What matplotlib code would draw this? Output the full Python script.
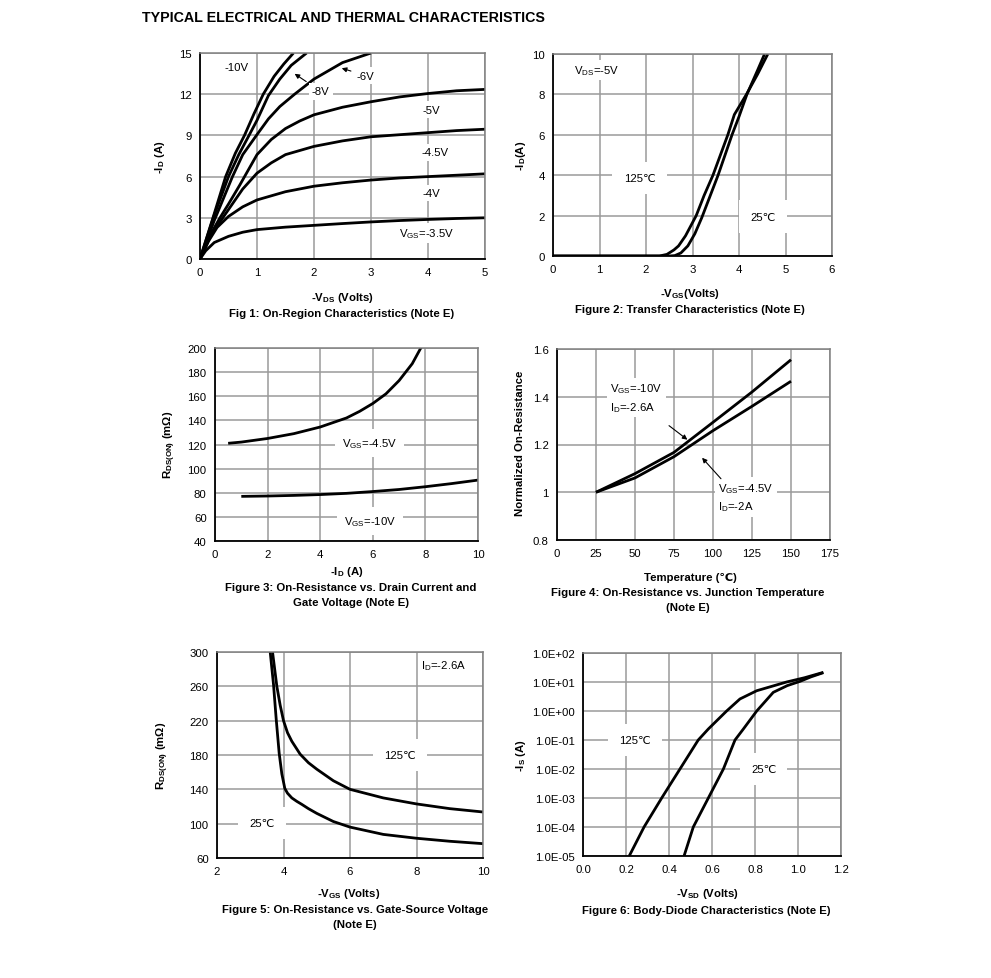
import numpy as np
import matplotlib
matplotlib.use("Agg")
import matplotlib.pyplot as plt

plt.rcParams["font.family"] = ["Liberation Sans", "DejaVu Sans"]
plt.rcParams["mathtext.fontset"] = "custom"
plt.rcParams["mathtext.rm"] = "Liberation Sans"
plt.rcParams["mathtext.bf"] = "Liberation Sans:bold"
plt.rcParams["mathtext.it"] = "Liberation Sans:italic"
plt.rcParams["font.size"] = 8.2

# ----------------- Data -----------------
# Fig 1: On-region characteristics, -VDS (V) vs -ID (A)
vds_10 = [0, 0.25, 0.45, 0.62, 0.78, 0.95, 1.11, 1.3, 1.47, 1.64]
id_10 = [0, 3.3, 6.0, 7.7, 9.0, 10.6, 12.0, 13.3, 14.2, 15.0]
vds_8 = [0, 0.25, 0.5, 0.68, 0.86, 1.0, 1.2, 1.4, 1.6, 1.87]
id_8 = [0, 3.2, 6.0, 7.6, 9.0, 10.1, 11.9, 13.1, 14.1, 15.0]
vds_6 = [0, 0.25, 0.57, 0.75, 0.99, 1.2, 1.4, 1.66, 2.0, 2.5, 3.0]
id_6 = [0, 2.8, 6.0, 7.6, 9.0, 10.2, 11.1, 12.0, 13.1, 14.3, 15.0]
vds_5 = [0, 0.2, 0.35, 0.5, 0.7, 1.0, 1.25, 1.5, 1.75, 2.0, 2.5, 3.0, 3.5, 4.0, 4.5, 5.0]
id_5 = [0, 1.9, 3.0, 4.0, 5.4, 7.6, 8.7, 9.5, 10.05, 10.5, 11.05, 11.45, 11.8, 12.05, 12.25, 12.35]
vds_45 = [0, 0.2, 0.5, 0.75, 1.0, 1.25, 1.5, 2.0, 2.5, 3.0, 3.5, 4.0, 4.5, 5.0]
id_45 = [0, 1.8, 3.6, 5.1, 6.25, 7.0, 7.6, 8.2, 8.6, 8.9, 9.05, 9.2, 9.35, 9.45]
vds_4 = [0, 0.15, 0.3, 0.5, 0.75, 1.0, 1.5, 2.0, 2.5, 3.0, 3.5, 4.0, 4.5, 5.0]
id_4 = [0, 1.3, 2.3, 3.1, 3.8, 4.3, 4.9, 5.3, 5.55, 5.75, 5.9, 6.0, 6.1, 6.2]
vds_35 = [0, 0.1, 0.25, 0.5, 0.75, 1.0, 1.5, 2.0, 2.5, 3.0, 3.5, 4.0, 4.5, 5.0]
id_35 = [0, 0.6, 1.2, 1.65, 1.95, 2.14, 2.32, 2.45, 2.58, 2.7, 2.8, 2.88, 2.95, 3.0]

# Fig 2: Transfer characteristics, -VGS (V) vs -ID (A)
vgs_25 = [0, 1, 2, 2.5, 2.62, 2.75, 2.9, 3.05, 3.2, 3.4, 3.55, 3.7, 3.85, 4.0, 4.17, 4.4, 4.55]
id_25 = [0, 0, 0, 0, 0.02, 0.15, 0.5, 1.1, 1.9, 3.1, 4.0, 5.0, 6.0, 6.9, 8.0, 9.2, 10.0]
vgs_125 = [0, 1, 2, 2.29, 2.45, 2.6, 2.7, 2.85, 3.08, 3.25, 3.44, 3.6, 3.76, 3.9, 4.16, 4.4, 4.62]
id_125 = [0, 0, 0, 0, 0.08, 0.3, 0.5, 1.0, 2.0, 3.0, 4.0, 5.0, 6.0, 7.0, 8.0, 9.0, 10.0]

# Fig 3: RDS(ON) vs -ID
id_r45 = [0.5, 1, 2, 3, 4, 5, 5.5, 6, 6.5, 7, 7.5, 7.9]
r_45 = [121, 122, 125, 129, 134.5, 142, 147.5, 154, 162, 173, 187, 203]
id_r10 = [1, 2, 3, 4, 5, 6, 7, 8, 9, 10]
r_10 = [77, 77.3, 77.8, 78.5, 79.5, 81, 82.7, 85, 87.6, 90.5]

# Fig 4: normalized on-resistance vs temperature
temp = [25, 50, 75, 100, 125, 150]
rn_10 = [1.0, 1.078, 1.167, 1.293, 1.42, 1.555]
rn_45 = [1.0, 1.06, 1.149, 1.258, 1.36, 1.465]

# Fig 5: RDS(ON) vs -VGS
vgs5_25 = [3.6, 3.7, 3.78, 3.87, 3.95, 4.04, 4.12, 4.25, 4.4, 4.55, 4.75, 5.0, 5.5, 6.0,
           7.0, 8.0, 9.0, 10.0]
r5_25 = [300, 262, 222, 182, 158, 141, 135.5, 130, 126, 122.5, 117.5, 112, 102.5, 96,
         87.5, 83, 79.5, 76.7]
vgs5_125 = [3.67, 3.8, 3.9, 4.0, 4.12, 4.25, 4.5, 4.75, 5.0, 5.5, 6.0, 7.0, 8.0, 9.0, 10.0]
r5_125 = [300, 260, 238, 220, 206, 196, 181, 171, 163.5, 150, 140, 130, 123, 117.5, 113.6]

# Fig 6: body diode, -VSD vs -IS (log)
vsd_125 = [0.215, 0.284, 0.366, 0.451, 0.536, 0.583, 0.668, 0.73, 0.808, 0.947, 1.03, 1.118]
is_125 = [1e-5, 1e-4, 1e-3, 1e-2, 1e-1, 0.24, 1.0, 2.6, 5.0, 10, 14, 21.5]
vsd_25 = [0.47, 0.513, 0.583, 0.653, 0.707, 0.746, 0.808, 0.885, 0.95, 1.009, 1.06, 1.118]
is_25 = [1e-5, 1e-4, 1e-3, 1e-2, 1e-1, 0.24, 1.0, 4.4, 7.5, 10.5, 15, 21]
is6_ticks = [1e-5, 1e-4, 1e-3, 1e-2, 1e-1, 1e0, 1e1, 1e2]
is6_labels = ["1.0E-05", "1.0E-04", "1.0E-03", "1.0E-02", "1.0E-01",
              "1.0E+00", "1.0E+01", "1.0E+02"]

# ----------------- Layout helpers -----------------
W, H = 991, 979
fig = plt.figure(figsize=(W / 100, H / 100), dpi=100)


def add_ax(l, t, r, b):
    ax = fig.add_axes([l / W, 1 - b / H, (r - l) / W, (b - t) / H])
    ax.grid(True, color="#9a9a9a", lw=1.1)
    ax.set_axisbelow(True)
    ax.tick_params(length=0, pad=6, labelsize=8.2)
    for s in ["left", "bottom"]:
        ax.spines[s].set_color("black")
        ax.spines[s].set_linewidth(1.3)
    for s in ["top", "right"]:
        ax.spines[s].set_color("#808080")
        ax.spines[s].set_linewidth(1.1)
    return ax


def ftext(x, y, s, **kw):
    fig.text(x / W, 1 - y / H, s, ha="center", va="center", **kw)


box = dict(facecolor="white", edgecolor="none", pad=2.5)
wide = dict(facecolor="white", edgecolor="none", pad=8)
CURVE = dict(color="black", lw=2.0, solid_capstyle="butt", solid_joinstyle="round")
arrow = dict(arrowstyle="-|>", color="black", lw=0.8, mutation_scale=7)

fig.text(142 / W, 1 - 18 / H, "TYPICAL ELECTRICAL AND THERMAL CHARACTERISTICS",
         ha="left", va="center", fontsize=10.3, fontweight="bold")

# ----------------- Fig 1 -----------------
ax1 = add_ax(200, 54, 485, 260)
for x, y in [(vds_10, id_10), (vds_8, id_8), (vds_6, id_6), (vds_5, id_5),
             (vds_45, id_45), (vds_4, id_4), (vds_35, id_35)]:
    ax1.plot(x, y, **CURVE)
ax1.set_xlim(0, 5)
ax1.set_ylim(0, 15)
ax1.set_xticks(range(6))
ax1.set_yticks(range(0, 16, 3))
ax1.text(0.65, 13.95, "-10V", ha="center", va="center", bbox=box)
ax1.annotate("-8V", xy=(1.62, 13.6), xytext=(2.12, 12.2), ha="center", va="center",
             bbox=box, arrowprops=arrow)
ax1.annotate("-6V", xy=(2.44, 13.95), xytext=(2.91, 13.35), ha="center", va="center",
             bbox=box, arrowprops=arrow)
ax1.text(4.06, 10.87, "-5V", ha="center", va="center", bbox=box)
ax1.text(4.12, 7.77, "-4.5V", ha="center", va="center", bbox=box)
ax1.text(4.06, 4.8, "-4V", ha="center", va="center", bbox=box)
ax1.text(3.97, 1.9, r"V$_{\mathrm{GS}}$=-3.5V", ha="center", va="center", bbox=box)
ftext(160, 157, r"-I$_{\mathbf{D}}$ (A)", rotation=90, fontweight="bold")
ftext(342, 298, r"-V$_{\mathbf{DS}}$ (Volts)", fontweight="bold")
ftext(342, 314, "Fig 1: On-Region Characteristics (Note E)", fontweight="bold")

# ----------------- Fig 2 -----------------
ax2 = add_ax(553, 55, 832, 257)
ax2.plot(vgs_25, id_25, **CURVE)
ax2.plot(vgs_125, id_125, **CURVE)
ax2.set_xlim(0, 6)
ax2.set_ylim(0, 10)
ax2.set_xticks(range(7))
ax2.set_yticks(range(0, 11, 2))
ax2.text(0.45, 9.2, r"V$_{\mathrm{DS}}$=-5V", ha="left", va="center", bbox=box)
ax2.text(1.86, 3.85, "125℃", ha="center", va="center", bbox=wide)
ax2.text(4.52, 1.95, "25℃", ha="center", va="center", bbox=wide)
ftext(521, 156, r"-I$_{\mathbf{D}}$(A)", rotation=90, fontweight="bold")
ftext(690, 294, r"-V$_{\mathbf{GS}}$(Volts)", fontweight="bold")
ftext(690, 310, "Figure 2: Transfer Characteristics (Note E)", fontweight="bold")

# ----------------- Fig 3 -----------------
ax3 = add_ax(215, 349, 478, 542)
ax3.plot(id_r45, r_45, **CURVE)
ax3.plot(id_r10, r_10, **CURVE)
ax3.set_xlim(0, 10)
ax3.set_ylim(40, 200)
ax3.set_xticks(range(0, 11, 2))
ax3.set_yticks(range(40, 201, 20))
ax3.text(5.89, 121.5, r"V$_{\mathrm{GS}}$=-4.5V", ha="center", va="center",
         bbox=dict(facecolor="white", edgecolor="none", pad=5))
ax3.text(5.89, 56.5, r"V$_{\mathrm{GS}}$=-10V", ha="center", va="center",
         bbox=dict(facecolor="white", edgecolor="none", pad=5))
ftext(170, 445, r"R$_{\mathbf{DS(ON)}}$ (m$\mathbf{\Omega}$)", rotation=90, fontweight="bold")
ftext(347, 572, r"-I$_{\mathbf{D}}$ (A)", fontweight="bold")
ftext(351, 588, "Figure 3: On-Resistance vs. Drain Current and", fontweight="bold")
ftext(351, 603, "Gate Voltage (Note E)", fontweight="bold")

# ----------------- Fig 4 -----------------
ax4 = add_ax(557, 350, 830, 541)
ax4.plot(temp, rn_10, **CURVE)
ax4.plot(temp, rn_45, **CURVE)
ax4.set_xlim(0, 175)
ax4.set_ylim(0.8, 1.6)
ax4.set_xticks(range(0, 176, 25))
ax4.set_yticks([0.8, 1.0, 1.2, 1.4, 1.6])
ax4.set_yticklabels(["0.8", "1", "1.2", "1.4", "1.6"])
ax4.text(34, 1.397, r"V$_{\mathrm{GS}}$=-10V" + "\n" + r"I$_{\mathrm{D}}$=-2.6A",
         ha="left", va="center", linespacing=1.5, bbox=box)
ax4.annotate("", xy=(85, 1.213), xytext=(70.4, 1.286), arrowprops=arrow)
ax4.text(103.5, 0.98, r"V$_{\mathrm{GS}}$=-4.5V" + "\n" + r"I$_{\mathrm{D}}$=-2A",
         ha="left", va="center", linespacing=1.5, bbox=box)
ax4.annotate("", xy=(91.8, 1.153), xytext=(106.3, 1.048), arrowprops=arrow)
ftext(520, 443, "Normalized On-Resistance", rotation=90, fontweight="bold")
ftext(690, 578, "Temperature (℃)", fontweight="bold")
ftext(688, 593, "Figure 4: On-Resistance vs. Junction Temperature", fontweight="bold")
ftext(688, 608, "(Note E)", fontweight="bold")

# ----------------- Fig 5 -----------------
ax5 = add_ax(217, 653, 483, 859)
ax5.plot(vgs5_25, r5_25, **CURVE)
ax5.plot(vgs5_125, r5_125, **CURVE)
ax5.set_xlim(2, 10)
ax5.set_ylim(60, 300)
ax5.set_xticks(range(2, 11, 2))
ax5.set_yticks(range(60, 301, 40))
ax5.text(8.82, 284.5, r"I$_{\mathrm{D}}$=-2.6A", ha="center", va="center", bbox=box)
ax5.text(7.51, 180, "125℃", ha="center", va="center", bbox=wide)
ax5.text(3.35, 101, "25℃", ha="center", va="center", bbox=wide)
ftext(163, 756, r"R$_{\mathbf{DS(ON)}}$ (m$\mathbf{\Omega}$)", rotation=90, fontweight="bold")
ftext(349, 894, r"-V$_{\mathbf{GS}}$ (Volts)", fontweight="bold")
ftext(355, 910, "Figure 5: On-Resistance vs. Gate-Source Voltage", fontweight="bold")
ftext(355, 925, "(Note E)", fontweight="bold")

# ----------------- Fig 6 -----------------
ax6 = add_ax(583, 654, 841, 857)
ax6.plot(vsd_125, is_125, **CURVE)
ax6.plot(vsd_25, is_25, **CURVE)
ax6.set_yscale("log")
ax6.set_xlim(0, 1.2)
ax6.set_ylim(1e-5, 1e2)
ax6.set_xticks(np.arange(0, 1.21, 0.2))
ax6.set_xticklabels(["0.0", "0.2", "0.4", "0.6", "0.8", "1.0", "1.2"])
ax6.set_yticks(is6_ticks)
ax6.set_yticklabels(is6_labels)
ax6.minorticks_off()
ax6.text(0.24, 0.1, "125℃", ha="center", va="center", bbox=wide)
ax6.text(0.84, 0.01, "25℃", ha="center", va="center", bbox=wide)
ftext(521, 756, r"-I$_{\mathbf{S}}$ (A)", rotation=90, fontweight="bold")
ftext(707, 894, r"-V$_{\mathbf{SD}}$ (Volts)", fontweight="bold")
ftext(706, 911, "Figure 6: Body-Diode Characteristics (Note E)", fontweight="bold")

fig.savefig("out.png", dpi=100)
